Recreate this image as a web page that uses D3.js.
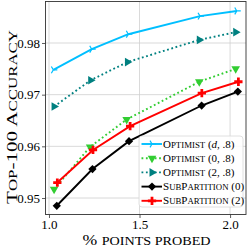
<!DOCTYPE html>
<html>
<head>
<meta charset="utf-8">
<script src="https://cdn.jsdelivr.net/npm/d3@7"></script>
<style>
  html, body { margin: 0; padding: 0; background: #fff; }
  svg { display: block; }
  text { font-family: "Liberation Serif", "DejaVu Serif", serif; fill: #000; }
</style>
</head>
<body>
<div id="chart"></div>
<script>
// values
var xTicks = [1.0, 1.5, 2.0];
var yTicks = [0.95, 0.96, 0.97, 0.98];

var xOptD = [1.024, 1.236, 1.438, 1.834, 2.037];
var yOptD = [0.9748, 0.9788, 0.9817, 0.9852, 0.9862];

var xOpt0 = [1.028, 1.227, 1.429, 1.830, 2.031];
var yOpt0 = [0.9517, 0.9599, 0.9652, 0.9725, 0.9750];

var xOpt2 = [1.028, 1.230, 1.433, 1.830, 2.031];
var yOpt2 = [0.9677, 0.9728, 0.9763, 0.9806, 0.9821];

var xSub0 = [1.043, 1.240, 1.442, 1.843, 2.043];
var ySub0 = [0.9485, 0.9556, 0.9610, 0.9679, 0.9706];

var xSub2 = [1.046, 1.243, 1.448, 1.844, 2.046];
var ySub2 = [0.9530, 0.9593, 0.9639, 0.9703, 0.9725];

var W = 249, H = 249;
var pLeft = 45.5, pRight = 246, pTop = 1.5, pBottom = 214.5;

var x = d3.scaleLinear().domain([0.9807, 2.088]).range([pLeft, pRight]);
var y = d3.scaleLinear().domain([0.94681, 0.98803]).range([pBottom, pTop]);

var svg = d3.select("#chart").append("svg").attr("width", W).attr("height", H);

// grid
svg.append("g").selectAll("line").data(xTicks).enter().append("line")
	.attr("x1", function(d) { return x(d); }).attr("x2", function(d) { return x(d); })
	.attr("y1", pTop).attr("y2", pBottom)
	.attr("stroke", "#cfcfcf").attr("stroke-width", 0.8);
svg.append("g").selectAll("line").data(yTicks).enter().append("line")
	.attr("y1", function(d) { return y(d); }).attr("y2", function(d) { return y(d); })
	.attr("x1", pLeft).attr("x2", pRight)
	.attr("stroke", "#cfcfcf").attr("stroke-width", 0.8);

// axes
var xAxis = svg.append("g").attr("transform", "translate(0," + pBottom + ")")
	.call(d3.axisBottom(x).tickValues(xTicks).tickFormat(d3.format(".1f")).tickSize(3.5).tickPadding(2));
var yAxis = svg.append("g").attr("transform", "translate(" + pLeft + ",0)")
	.call(d3.axisLeft(y).tickValues(yTicks).tickFormat(d3.format(".2f")).tickSize(3.5).tickPadding(2));
[xAxis, yAxis].forEach(function(a) {
	a.select(".domain").remove();
	a.selectAll("line").attr("stroke", "#333").attr("stroke-width", 0.8);
	a.selectAll("text").attr("font-family", "Liberation Serif").attr("font-size", 13).attr("fill", "#222");
});

// frame
svg.append("rect").attr("x", pLeft).attr("y", pTop).attr("width", pRight - pLeft).attr("height", pBottom - pTop)
	.attr("fill", "none").attr("stroke", "#333").attr("stroke-width", 0.9);

// marker shapes
var markers = {
	tri: function(g, c) {
		g.append("path").attr("d", "M0,0L4,0M0,0L-2,-3.4M0,0L-2,3.4")
			.attr("fill", "none").attr("stroke", c).attr("stroke-width", 1.2);
	},
	down: function(g, c) { g.append("path").attr("d", d3.symbol(d3.symbolTriangle, 32)()).attr("transform", "rotate(180)").attr("fill", c); },
	right: function(g, c) { g.append("path").attr("d", d3.symbol(d3.symbolTriangle, 32)()).attr("transform", "rotate(90)").attr("fill", c); },
	diamond: function(g, c) { g.append("path").attr("d", d3.symbol(d3.symbolSquare, 34)()).attr("transform", "rotate(45)").attr("fill", c); },
	plus: function(g, c) { g.append("path").attr("d", d3.symbol(d3.symbolCross, 38)()).attr("fill", c); }
};

var series = [
	{ xs: xOptD, ys: yOptD, color: "#00bfff", dash: null, marker: "tri",
	  label: [["O", 1], ["ptimist", 0], [" (", 1], ["d", 2], [", .8)", 1]] },
	{ xs: xOpt0, ys: yOpt0, color: "#32cd32", dash: "1.8,2.6", marker: "down",
	  label: [["O", 1], ["ptimist", 0], [" (0, .8)", 1]] },
	{ xs: xOpt2, ys: yOpt2, color: "#008080", dash: "1.8,2.6", marker: "right",
	  label: [["O", 1], ["ptimist", 0], [" (2, .8)", 1]] },
	{ xs: xSub0, ys: ySub0, color: "#000000", dash: null, marker: "diamond",
	  label: [["S", 1], ["ub", 0], ["P", 1], ["artition", 0], [" (0)", 1]] },
	{ xs: xSub2, ys: ySub2, color: "#ff0000", dash: null, marker: "plus",
	  label: [["S", 1], ["ub", 0], ["P", 1], ["artition", 0], [" (2)", 1]] }
];

var line = d3.line().x(function(d) { return x(d[0]); }).y(function(d) { return y(d[1]); });

series.forEach(function(s) {
	var pts = d3.zip(s.xs, s.ys);
	svg.append("path").datum(pts).attr("d", line)
		.attr("fill", "none").attr("stroke", s.color).attr("stroke-width", 1.9)
		.attr("stroke-dasharray", s.dash);
	pts.forEach(function(p) {
		var g = svg.append("g").attr("transform", "translate(" + x(p[0]) + "," + y(p[1]) + ")");
		markers[s.marker](g, s.color);
	});
});

// legend
var lg = svg.append("g");
lg.append("rect").attr("x", 139).attr("y", 136).attr("width", 104).attr("height", 71).attr("rx", 3)
	.attr("fill", "#fff").attr("fill-opacity", 0.85).attr("stroke", "#d8d8d8").attr("stroke-width", 0.8);

function smallCaps(t, parts, size) {
	parts.forEach(function(p) {
		var ts = t.append("tspan");
		if (p[1] === 0) ts.text(p[0].toUpperCase()).attr("font-size", size * 0.8);
		else if (p[1] === 2) ts.text(p[0]).attr("font-style", "italic").attr("font-size", size);
		else ts.text(p[0]).attr("font-size", size);
	});
}

series.forEach(function(s, i) {
	var cy = 144 + i * 14.2;
	lg.append("line").attr("x1", 141.5).attr("x2", 162).attr("y1", cy).attr("y2", cy)
		.attr("stroke", s.color).attr("stroke-width", 1.9).attr("stroke-dasharray", s.dash);
	var g = lg.append("g").attr("transform", "translate(152," + cy + ")");
	markers[s.marker](g, s.color);
	var t = lg.append("text").attr("x", 163).attr("y", cy + 3.5).attr("fill", "#222");
	smallCaps(t, s.label, 11);
});

// axis titles (stretched to the width the serif small caps take in the original)
var xt = svg.append("text").attr("x", 146.5).attr("y", 245).attr("text-anchor", "middle").attr("fill", "#222")
	.attr("textLength", 128).attr("lengthAdjust", "spacingAndGlyphs");
smallCaps(xt, [["% ", 1], ["points probed", 0]], 15.5);

var yt = svg.append("text").attr("transform", "translate(16.5,117) rotate(-90)").attr("text-anchor", "middle").attr("fill", "#222")
	.attr("textLength", 174).attr("lengthAdjust", "spacingAndGlyphs");
smallCaps(yt, [["T", 1], ["op", 0], ["-100 ", 1], ["A", 1], ["ccuracy", 0]], 15.5);
</script>
</body>
</html>
